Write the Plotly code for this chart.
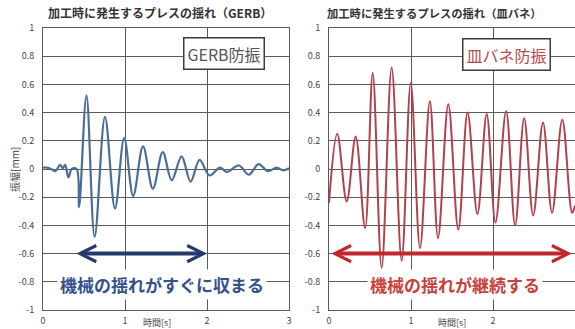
import plotly.graph_objects as go

# ---------------- data ----------------
t_gerb = [0.00, 0.05, 0.10, 0.15, 0.21, 0.24, 0.27, 0.31, 0.35, 0.41, 0.44, 0.53, 0.63, 0.756,
          0.878, 0.99, 1.10, 1.22, 1.34, 1.46, 1.57, 1.69, 1.80, 1.91, 2.03, 2.16, 2.24, 2.39,
          2.51, 2.63, 2.74, 2.85, 2.93, 3.00]
v_gerb = [0.01, 0.01, 0.00, -0.015, 0.03, 0.005, 0.03, -0.06, 0.00, 0.00, -0.27, 0.52, -0.48, 0.37,
          -0.28, 0.22, -0.19, 0.16, -0.14, 0.12, -0.08, 0.09, -0.09, 0.065, -0.045, 0.01, -0.02, 0.025,
          -0.04, 0.035, -0.015, 0.01, -0.01, 0.005]

t_sara = [0.00, 0.10, 0.216, 0.325, 0.44, 0.533, 0.642, 0.764, 0.886, 0.997, 1.11, 1.23, 1.33,
          1.455, 1.577, 1.69, 1.81, 1.923, 2.03, 2.16, 2.27, 2.38, 2.49, 2.61, 2.72, 2.845, 2.965, 3.00]
v_sara = [-0.24, 0.25, -0.23, 0.23, -0.42, 0.68, -0.70, 0.72, -0.65, 0.61, -0.56, 0.48, -0.49,
          0.46, -0.43, 0.40, -0.32, 0.39, -0.38, 0.41, -0.40, 0.36, -0.33, 0.33, -0.31, 0.35, -0.31, -0.26]

x_ticks = [0, 1, 2, 3]
x_tick_labels = ["0", "1", "2", "3"]
y_ticks = [-1, -0.8, -0.6, -0.4, -0.2, 0, 0.2, 0.4, 0.6, 0.8, 1]
y_tick_labels = ["-1", "-0.8", "-0.6", "-0.4", "-0.2", "0", "0.2", "0.4", "0.6", "0.8", "1"]

title_left = "加工時に発生するプレスの揺れ（GERB）"
title_right = "加工時に発生するプレスの揺れ（皿バネ）"
label_left = "GERB防振"
label_right = "皿バネ防振"
msg_left = "機械の揺れがすぐに収まる"
msg_right = "機械の揺れが継続する"
x_title = "時間[s]"
y_title = "振幅[mm]"

# ---------------- figure ----------------
W, H = 575, 329
FONT = "Noto Sans CJK JP"
GRID = "#5a5a5a"

fig = go.Figure()
fig.add_trace(go.Scatter(x=t_gerb, y=v_gerb, mode="lines", xaxis="x", yaxis="y",
                         line=dict(color="#4a6e98", width=2.2, shape="spline", smoothing=1.0),
                         showlegend=False, hoverinfo="skip"))
fig.add_trace(go.Scatter(x=t_sara, y=v_sara, mode="lines", xaxis="x2", yaxis="y2",
                         line=dict(color="#b3404c", width=2.0, shape="spline", smoothing=1.0),
                         showlegend=False, hoverinfo="skip"))


def xax(domain, anchor):
    return dict(domain=domain, anchor=anchor, range=[0, 3], tickvals=x_ticks, ticktext=x_tick_labels,
                showgrid=True, gridcolor=GRID, gridwidth=1, zeroline=False, automargin=False,
                showline=True, mirror=True, linecolor=GRID, linewidth=1,
                tickfont=dict(family=FONT, size=9, color="#444"), ticks="", ticklabelstandoff=2,
                fixedrange=True)


def yax(domain, anchor):
    return dict(domain=domain, anchor=anchor, range=[-1, 1], tickvals=y_ticks, ticktext=y_tick_labels,
                showgrid=True, gridcolor=GRID, gridwidth=1, zeroline=False, automargin=False,
                showline=True, mirror=True, linecolor=GRID, linewidth=1,
                tickfont=dict(family=FONT, size=9, color="#444"), ticks="", ticklabelstandoff=6,
                fixedrange=True)


ydom = [1 - 310 / H, 1 - 28 / H]
fig.update_layout(
    width=W, height=H, margin=dict(l=0, r=0, t=0, b=0, autoexpand=False),
    paper_bgcolor="white", plot_bgcolor="white",
    xaxis=xax([43 / W, 289 / W], "y"),
    yaxis=yax(ydom, "x"),
    xaxis2=xax([329 / W, 575 / W], "y2"),
    yaxis2=yax(ydom, "x2"),
    font=dict(family=FONT),
)

C = dict(xanchor="center", yanchor="middle", showarrow=False)
ann = []
# titles
ann.append(dict(text="<b>" + title_left + "</b>", xref="paper", yref="paper", x=160 / W, y=1 - 13 / H,
                font=dict(size=12, color="#333", family=FONT), **C))
ann.append(dict(text="<b>" + title_right + "</b>", xref="paper", yref="paper", x=434 / W, y=1 - 13 / H,
                font=dict(size=11.3, color="#333", family=FONT), **C))
# axis titles
ann.append(dict(text=x_title, xref="paper", yref="paper", x=157 / W, y=1 - 322 / H,
                font=dict(size=9, color="#444", family=FONT), **C))
ann.append(dict(text=x_title, xref="paper", yref="paper", x=452 / W, y=1 - 322 / H,
                font=dict(size=9, color="#444", family=FONT), **C))
ann.append(dict(text=y_title, xref="paper", yref="paper", x=14 / W, y=1 - 170 / H, textangle=-90,
                font=dict(size=10, color="#444", family=FONT), **C))
# boxed labels
ann.append(dict(text=label_left, xref="x", yref="y", x=2.21, y=0.82,
                font=dict(size=16, color="#555", family=FONT), bgcolor="white",
                bordercolor="#3c3c3c", borderwidth=1.5, borderpad=3, **C))
ann.append(dict(text=label_right, xref="x2", yref="y2", x=2.17, y=0.81,
                font=dict(size=16, color="#b84a50", family=FONT), bgcolor="white",
                bordercolor="#3c3c3c", borderwidth=1.5, borderpad=3, **C))
# arrows
ann.append(dict(text="", xref="x", yref="y", axref="x", ayref="y", x=2.0, y=-0.6, ax=0.39, ay=-0.6,
                showarrow=True, arrowhead=5, startarrowhead=5, arrowside="end+start",
                arrowwidth=4, arrowsize=0.8, startarrowsize=0.8, arrowcolor="#25396c",
                standoff=0, startstandoff=0))
ann.append(dict(text="", xref="x2", yref="y2", axref="x2", ayref="y2", x=2.96, y=-0.6, ax=0.01, ay=-0.6,
                showarrow=True, arrowhead=5, startarrowhead=5, arrowside="end+start",
                arrowwidth=4, arrowsize=0.8, startarrowsize=0.8, arrowcolor="#c1282e",
                standoff=0, startstandoff=0))
# messages
ann.append(dict(text="<b>" + msg_left + "</b>", xref="x", yref="y", x=1.45, y=-0.816,
                font=dict(size=17, color="#34528a", family=FONT), bgcolor="white", borderpad=2, **C))
ann.append(dict(text="<b>" + msg_right + "</b>", xref="x2", yref="y2", x=1.54, y=-0.816,
                font=dict(size=17, color="#c8413c", family=FONT), bgcolor="white", borderpad=2, **C))

fig.update_layout(annotations=ann)
fig.write_html("out.html", config={"displayModeBar": False},
               post_script="document.body.style.margin='0px';document.body.style.overflow='hidden';")
